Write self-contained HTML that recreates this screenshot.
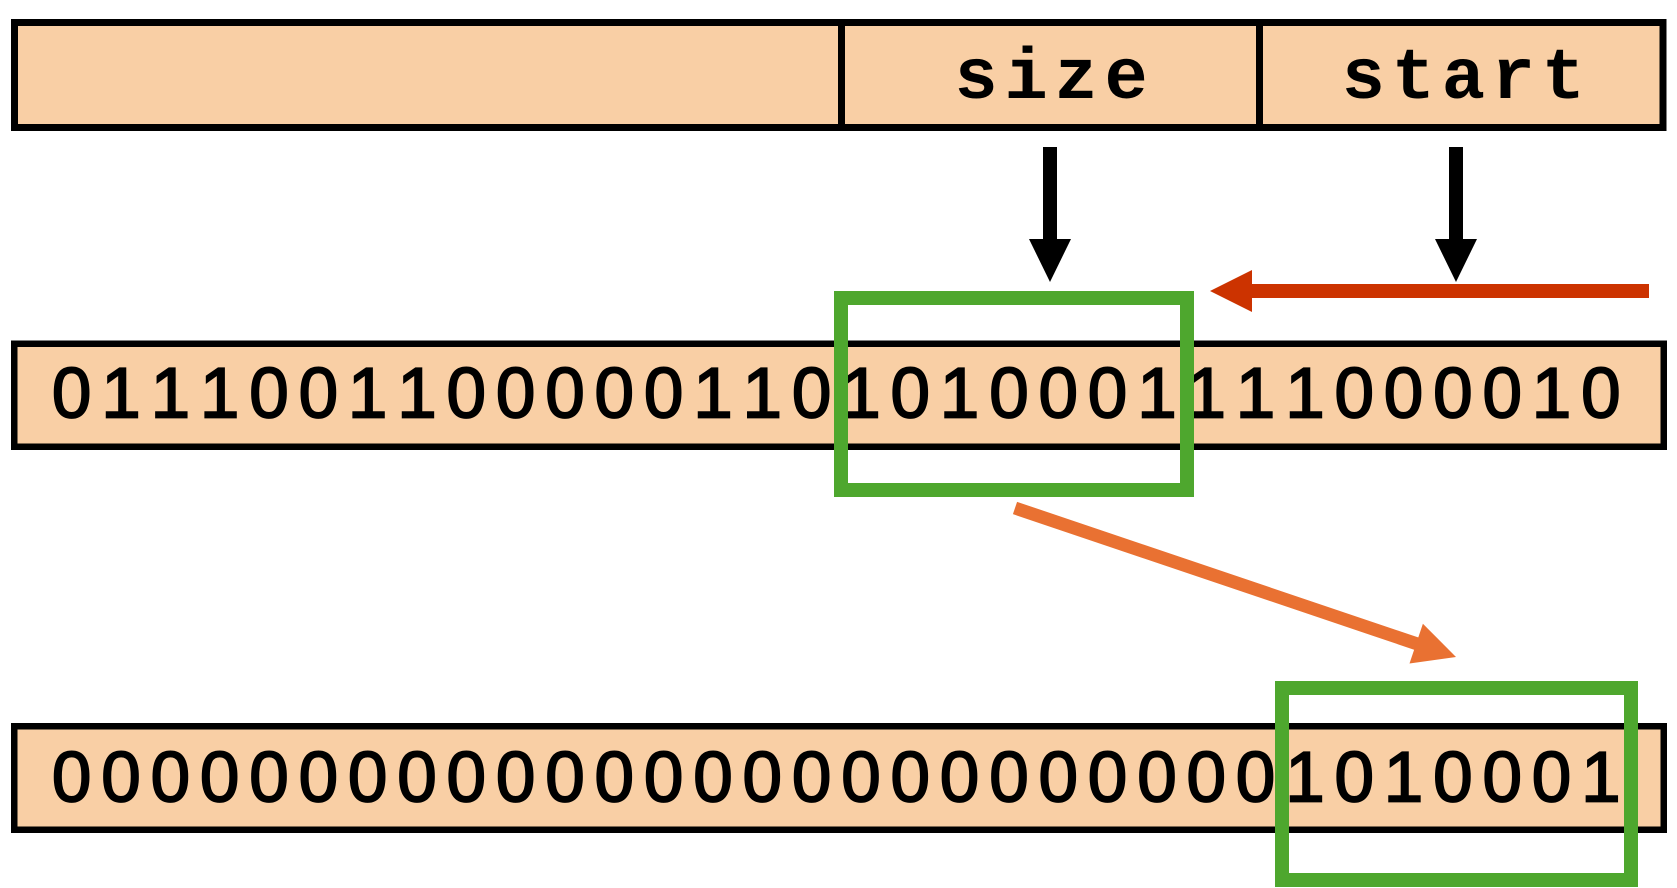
<!DOCTYPE html>
<html>
<head>
<meta charset="utf-8">
<style>
  html, body { margin: 0; padding: 0; background: #ffffff; }
  svg { display: block; }
  .digits { font-family: "Liberation Sans", sans-serif; font-weight: normal; font-size: 71px; letter-spacing: 0; font-kerning: none; font-feature-settings: "kern" 0; fill: #000; stroke: #000; stroke-width: 1.8px; }
  .label { font-family: "Liberation Mono", monospace; font-weight: bold; font-size: 72px; letter-spacing: 6.8px; fill: #000; }
</style>
</head>
<body>
<svg width="1677" height="888" viewBox="0 0 1677 888" xmlns="http://www.w3.org/2000/svg">
  <rect x="0" y="0" width="1677" height="888" fill="#ffffff"/>

  <!-- Top register box -->
  <rect x="14.5" y="22.5" width="1648.5" height="105" fill="#F9CFA5" stroke="#000" stroke-width="7"/>
  <rect x="838" y="22" width="7" height="106" fill="#000"/>
  <rect x="1256" y="22" width="7" height="106" fill="#000"/>
  <text class="label" x="954.5" y="98">size</text>
  <text class="label" x="1341.7" y="98">start</text>

  <!-- Black down arrows -->
  <rect x="1043" y="147" width="14" height="94" fill="#000"/>
  <polygon points="1029,239 1071,239 1050,282" fill="#000"/>
  <rect x="1449" y="147" width="14" height="94" fill="#000"/>
  <polygon points="1435,239 1477,239 1456,282" fill="#000"/>

  <!-- Red left arrow -->
  <rect x="1250" y="284" width="399" height="14" fill="#CC3300"/>
  <polygon points="1210,291 1252,270 1252,312" fill="#CC3300"/>

  <!-- Row 2 -->
  <rect x="14.25" y="343.75" width="1649.5" height="103" fill="#F9CFA5" stroke="#000" stroke-width="6.5"/>
  <text class="digits" x="51.9 101.2 150.6 199.9 249.2 298.6 347.9 397.2 446.5 495.9 545.2 594.5 643.9 693.2 742.5 791.9 841.2 890.5 939.8 989.2 1038.5 1087.8 1137.2 1186.5 1235.8 1285.2 1334.5 1383.8 1433.1 1482.5 1531.8 1581.1" y="417.5">01110011000001101010001111000010</text>

  <!-- Row 3 -->
  <rect x="14.25" y="726.25" width="1649.5" height="103.5" fill="#F9CFA5" stroke="#000" stroke-width="6.5"/>
  <text class="digits" x="51.9 101.2 150.6 199.9 249.2 298.6 347.9 397.2 446.5 495.9 545.2 594.5 643.9 693.2 742.5 791.9 841.2 890.5 939.8 989.2 1038.5 1087.8 1137.2 1186.5 1235.8 1285.2 1334.5 1383.8 1433.1 1482.5 1531.8 1581.1" y="801.5">00000000000000000000000001010001</text>

  <!-- Orange diagonal arrow -->
  <line x1="1015" y1="508" x2="1418" y2="644.2" stroke="#E97132" stroke-width="13" stroke-linecap="butt"/>
  <polygon points="1456,657 1422.9,623.7 1409.5,663.5" fill="#E97132"/>

  <!-- Green highlight boxes -->
  <rect x="841" y="298" width="346" height="192" fill="none" stroke="#4EA72E" stroke-width="14"/>
  <rect x="1282" y="688" width="349" height="192" fill="none" stroke="#4EA72E" stroke-width="14"/>
</svg>
</body>
</html>
